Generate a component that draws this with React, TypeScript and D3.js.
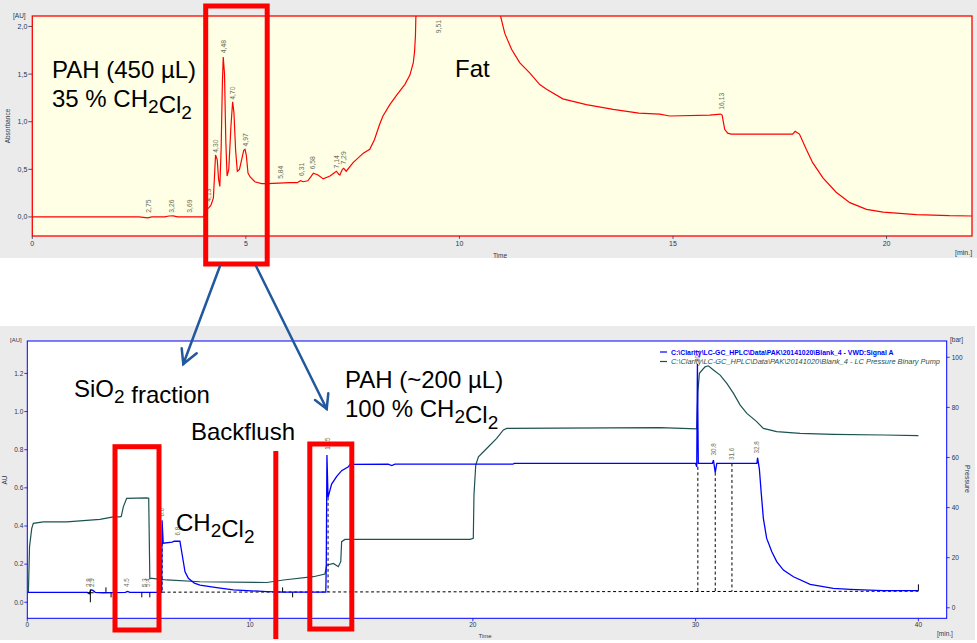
import React from 'react';
import * as d3 from 'd3';

const W = 977;
const H = 643;

// ---------- Top chromatogram (red, absorbance) ----------
const topTime = [0, 2.5, 2.6, 2.7, 2.8, 3.1, 3.2, 3.3, 3.4, 3.69, 4.0, 4.08, 4.13, 4.18, 4.24, 4.29, 4.33, 4.36, 4.39, 4.42, 4.45, 4.47, 4.5, 4.53, 4.56, 4.6, 4.65, 4.69, 4.72, 4.76, 4.8, 4.85, 4.9, 4.95, 4.98, 5.01, 5.05, 5.1, 5.21, 5.37, 5.5, 6.03, 6.2, 6.28, 6.34, 6.45, 6.52, 6.58, 6.69, 6.81, 6.97, 7.12, 7.17, 7.2, 7.26, 7.29, 7.35, 7.51, 7.75, 7.9, 8.01, 8.13, 8.21, 8.37, 8.53, 8.72, 8.84, 8.92, 8.95, 8.97, 9.0, 10.9, 10.94, 11.06, 11.22, 11.41, 11.65, 11.88, 12.04, 12.42, 12.97, 13.6, 14.2, 14.69, 14.92, 15.86, 16.11, 16.15, 16.17, 16.21, 16.28, 16.36, 17.8, 17.86, 17.96, 18.12, 18.27, 18.51, 18.82, 19.14, 19.53, 19.92, 20.7, 21.47, 22];
const topAbs = [0, 0, -0.005, -0.01, 0, 0, 0.01, 0.012, 0, 0, 0, 0.08, 0.095, 0.12, 0.2, 0.65, 0.6, 0.4, 0.32, 0.7, 1.4, 1.68, 1.5, 0.8, 0.43, 0.5, 0.95, 1.21, 1.1, 0.7, 0.48, 0.5, 0.6, 0.7, 0.71, 0.65, 0.46, 0.42, 0.37, 0.35, 0.35, 0.36, 0.36, 0.38, 0.37, 0.38, 0.42, 0.46, 0.44, 0.40, 0.43, 0.48, 0.45, 0.44, 0.5, 0.51, 0.48, 0.57, 0.67, 0.71, 0.81, 0.97, 1.06, 1.18, 1.28, 1.39, 1.49, 1.62, 1.74, 1.9, 2.5, 2.5, 2.15, 1.93, 1.76, 1.62, 1.51, 1.39, 1.34, 1.24, 1.18, 1.13, 1.09, 1.08, 1.06, 1.07, 1.08, 1.07, 1.02, 0.92, 0.88, 0.87, 0.87, 0.90, 0.87, 0.71, 0.57, 0.41, 0.26, 0.15, 0.08, 0.05, 0.025, 0.013, 0.01];
const topPeakLabels = ['2,75', '3,26', '3,69', '4,13', '4,30', '4,48', '4,70', '4,97', '5,84', '6,31', '6,58', '7,14', '7,29', '9,51', '16,13'];
const topPeakTimes = [2.73, 3.25, 3.67, 4.13, 4.29, 4.48, 4.69, 4.98, 5.81, 6.3, 6.56, 7.12, 7.28, 9.5, 16.13];
const topPeakLevels = [0.045, 0.045, 0.045, 0.16, 0.675, 1.72, 1.23, 0.74, 0.4, 0.43, 0.5, 0.51, 0.55, 1.93, 1.125];
const topXTicks = [0, 5, 10, 15, 20];
const topYTicks = [0, 0.5, 1.0, 1.5, 2.0];
const topYTickLabels = ['0,0', '0,5', '1,0', '1,5', '2,0'];

// ---------- Bottom chromatogram ----------
const sigTime = [0, 2.7, 2.78, 2.85, 2.95, 3.05, 3.4, 4.4, 4.5, 4.6, 6.03, 6.05, 6.1, 6.5, 6.6, 6.85, 6.93, 7.08, 7.23, 7.5, 7.75, 8.5, 9.25, 10.75, 11.5, 13.4, 13.42, 13.45, 13.5, 13.66, 13.89, 14.11, 14.41, 14.49, 16.2, 16.36, 16.5, 21.8, 21.85, 30.0, 30.05, 30.08, 30.12, 30.75, 30.8, 30.88, 30.95, 32.75, 32.78, 32.86, 32.94, 33.04, 33.19, 33.42, 33.64, 33.94, 34.39, 35.14, 36.18, 36.93, 38.43, 40.0];
const sigAU = [0.052, 0.052, 0.045, 0.065, 0.062, 0.052, 0.05, 0.052, 0.057, 0.052, 0.052, 0.43, 0.31, 0.315, 0.32, 0.32, 0.265, 0.16, 0.126, 0.1, 0.09, 0.077, 0.065, 0.056, 0.053, 0.053, 0.2, 0.772, 0.55, 0.62, 0.66, 0.69, 0.71, 0.723, 0.724, 0.717, 0.724, 0.724, 0.728, 0.728, 0.71, 1.25, 0.728, 0.728, 0.745, 0.68, 0.728, 0.728, 0.758, 0.70, 0.58, 0.44, 0.335, 0.265, 0.213, 0.169, 0.134, 0.094, 0.073, 0.068, 0.061, 0.061];
const presTime = [0, 0.05, 0.1, 0.2, 0.27, 0.72, 1.77, 3.26, 3.86, 4.16, 4.22, 4.31, 4.46, 5.36, 5.45, 5.5, 5.6, 6.26, 7.75, 10.75, 11.5, 12.84, 13.36, 13.44, 13.74, 13.96, 14.07, 14.11, 14.26, 19.87, 20.02, 20.05, 20.13, 20.25, 20.62, 21.07, 21.37, 21.52, 28.4, 30.05, 30.1, 30.17, 30.42, 30.57, 30.8, 31.1, 31.4, 31.7, 32.0, 32.3, 32.74, 33.04, 33.64, 34.69, 36.18, 38.43, 40];
const presBar = [6.2, 6.2, 24.4, 31.7, 33.7, 34.3, 34.3, 35.3, 36.3, 36.3, 36.5, 40.3, 43.7, 43.9, 43.7, 11.7, 11.7, 11.1, 10.4, 10.1, 11.1, 12.4, 13.5, 17.0, 17.7, 16.4, 18.4, 26.4, 27.3, 27.3, 27.7, 45, 57, 60.3, 63.6, 67.6, 71, 71.6, 71.9, 71.4, 86.3, 93.6, 96.2, 96.6, 94.9, 92.9, 89.6, 85.6, 80.9, 77.6, 74.3, 71.6, 70.3, 69.6, 69.2, 68.97, 68.7];
const botPeakLabels = ['2.8', '2.9', '4.5', '5.3', '5.4', '6.0', '6.8', '13.5', '30.1', '30.8', '31.6', '32.8'];
const botPeakTimes = [2.76, 2.9, 4.47, 5.25, 5.42, 6.05, 6.77, 13.48, 30.08, 30.8, 31.63, 32.76];
const botPeakLevels = [0.08, 0.08, 0.08, 0.08, 0.08, 0.45, 0.35, 0.8, 1.26, 0.77, 0.746, 0.78];
const dropTimes = [6.05, 13.5, 30.1, 30.88, 31.63];
const dropTops = [0.31, 0.55, 0.71, 0.68, 0.728];
const baseStart = [6.05, 0.053];
const baseEnd = [40.0, 0.058];
const markTimes = [3.53, 3.76, 5.14, 5.5, 11.46, 11.91];
const markDirs = [1, -1, -1, -1, 1, -1];
const botXTicks = [0, 10, 20, 30, 40];
const botYTicks = [0, 0.2, 0.4, 0.6, 0.8, 1.0, 1.2];
const presTicks = [0, 20, 40, 60, 80, 100];
const legendNames = [
  'C:\\Clarity\\LC-GC_HPLC\\Data\\PAK\\20141020\\Blank_4 - VWD:Signal A',
  'C:\\Clarity\\LC-GC_HPLC\\Data\\PAK\\20141020\\Blank_4 - LC Pressure Binary Pump',
];

const RED = '#ff0000';
const BLUE = '#0000ff';
const TEAL = '#1b5252';
const ARROW = '#22589e';
const GREY = '#ebebeb';
const TICKTXT = '#2a3550';
const PEAKTXT = '#6e705c';
const SANS = '"Liberation Sans", Arial, sans-serif';

function Sub({ children }: { children: string }) {
  return (
    <>
      <tspan dy={6} fontSize={19}>{children}</tspan>
      <tspan dy={-6} />
    </>
  );
}

export default function App() {
  const tx = d3.scaleLinear().domain([0, 22]).range([32.3, 972]);
  const ty = d3.scaleLinear().domain([-0.2, 2.11]).range([236, 16]);
  const bx = d3.scaleLinear().domain([0, 41.27]).range([27.3, 946.7]);
  const by = d3.scaleLinear().domain([-0.084, 1.37]).range([618.3, 341]);
  const bp = d3.scaleLinear().domain([-4.2, 106.5]).range([618.3, 341]);

  const topLine = d3.line<number>().x((d, i) => tx(topTime[i])).y((d) => ty(d));
  const sigLine = d3.line<number>().x((d, i) => bx(sigTime[i])).y((d) => by(d));
  const presLine = d3.line<number>().x((d, i) => bx(presTime[i])).y((d) => bp(d));

  const [tx0, tx1] = tx.range();
  const [ty0, ty1] = [ty.range()[1], ty.range()[0]];
  const [bx0, bx1] = bx.range();
  const [by0, by1] = [by.range()[1], by.range()[0]];
  const baseAt = (t: number) => baseStart[1] + (baseEnd[1] - baseStart[1]) * (t - baseStart[0]) / (baseEnd[0] - baseStart[0]);

  return (
    <svg width={W} height={H} style={{ position: 'fixed', left: 0, top: 0, background: '#fff' }} fontFamily={SANS}>
      <defs>
        <clipPath id="topclip"><rect x={tx0} y={ty0} width={tx1 - tx0} height={ty1 - ty0} /></clipPath>
        <clipPath id="botclip"><rect x={bx0} y={by0} width={bx1 - bx0} height={by1 - by0} /></clipPath>
      </defs>
      <rect x={0} y={0} width={W} height={H} fill="#fff" />

      {/* ===== Top panel ===== */}
      <rect x={0} y={0} width={W} height={258} fill={GREY} />
      <rect x={tx0} y={ty0} width={tx1 - tx0} height={ty1 - ty0} fill="#ffffe5" stroke={RED} strokeWidth={1.3} />
      {topYTicks.map((v, i) => (
        <g key={'ty' + i}>
          <line x1={tx0 - 4} x2={tx0} y1={ty(v)} y2={ty(v)} stroke={TICKTXT} strokeWidth={0.8} />
          <text x={tx0 - 5} y={ty(v) + 2.5} fontSize={7} fill={TICKTXT} textAnchor="end">{topYTickLabels[i]}</text>
        </g>
      ))}
      {topXTicks.map((v) => (
        <g key={'tx' + v}>
          <line x1={tx(v)} x2={tx(v)} y1={ty1} y2={ty1 + 3} stroke={TICKTXT} strokeWidth={0.8} />
          <text x={tx(v)} y={ty1 + 10} fontSize={7} fill={TICKTXT} textAnchor="middle">{v}</text>
        </g>
      ))}
      <text x={13} y={18} fontSize={6.5} fill={TICKTXT}>[AU]</text>
      <text transform="translate(10,126) rotate(-90)" fontSize={6.5} fill={TICKTXT} textAnchor="middle">Absorbance</text>
      <text x={500} y={258} fontSize={6.5} fill={TICKTXT} textAnchor="middle">Time</text>
      <text x={955} y={255} fontSize={7} fill={TICKTXT}>[min.]</text>

      <path d={topLine(topAbs) || ''} fill="none" stroke={RED} strokeWidth={1.2} clipPath="url(#topclip)" />
      {topPeakLabels.map((l, i) => (
        <text key={'tp' + i} transform={`translate(${tx(topPeakTimes[i]) + 2.5},${ty(topPeakLevels[i])}) rotate(-90)`} fontSize={6.8} fill={PEAKTXT}>{l}</text>
      ))}

      <text x={52} y={78} fontSize={24} fill="#000">PAH (450 µL)</text>
      <text x={52} y={107} fontSize={24} fill="#000">35 % CH<Sub>2</Sub>Cl<Sub>2</Sub></text>
      <text x={455} y={77} fontSize={24} fill="#000">Fat</text>

      {/* ===== Bottom panel ===== */}
      <rect x={0} y={326} width={975} height={314} fill={GREY} />
      <rect x={bx0} y={by0} width={bx1 - bx0} height={by1 - by0} fill="#fff" stroke={BLUE} strokeWidth={1} />
      {botYTicks.map((v) => (
        <g key={'by' + v}>
          <line x1={bx0 - 3} x2={bx0} y1={by(v)} y2={by(v)} stroke={BLUE} strokeWidth={0.8} />
          <text x={bx0 - 4} y={by(v) + 2.3} fontSize={6.5} fill={TICKTXT} textAnchor="end">{v.toFixed(1)}</text>
        </g>
      ))}
      {presTicks.map((v) => (
        <g key={'bp' + v}>
          <line x1={bx1} x2={bx1 + 3} y1={bp(v)} y2={bp(v)} stroke={BLUE} strokeWidth={0.8} />
          <text x={bx1 + 5} y={bp(v) + 2.3} fontSize={6.5} fill={TICKTXT}>{v}</text>
        </g>
      ))}
      {botXTicks.map((v) => (
        <g key={'bx' + v}>
          <line x1={bx(v)} x2={bx(v)} y1={by1} y2={by1 + 3} stroke={BLUE} strokeWidth={0.8} />
          <text x={bx(v)} y={by1 + 9} fontSize={6.5} fill={TICKTXT} textAnchor="middle">{v}</text>
        </g>
      ))}
      <text x={10} y={342} fontSize={6} fill={TICKTXT}>[AU]</text>
      <text transform="translate(7,480) rotate(-90)" fontSize={6.5} fill={TICKTXT} textAnchor="middle">AU</text>
      <text x={950} y={342} fontSize={6.5} fill={TICKTXT}>[bar]</text>
      <text transform="translate(965,479) rotate(90)" fontSize={7} fill={TICKTXT} textAnchor="middle">Pressure</text>
      <text x={485} y={638} fontSize={6} fill={TICKTXT} textAnchor="middle">Time</text>
      <text x={937} y={636} fontSize={6.5} fill={TICKTXT}>[min.]</text>

      <g clipPath="url(#botclip)">
        <path d={presLine(presBar) || ''} fill="none" stroke={TEAL} strokeWidth={1.2} />
        <line x1={bx(baseStart[0])} y1={by(baseStart[1])} x2={bx(baseEnd[0])} y2={by(baseEnd[1])} stroke="#000" strokeWidth={1} strokeDasharray="3,2.5" />
        {dropTimes.map((t, i) => (
          <line key={'dr' + i} x1={bx(t)} x2={bx(t)} y1={by(dropTops[i])} y2={by(baseAt(t))} stroke="#000" strokeWidth={1} strokeDasharray="3,2.5" />
        ))}
        <path d={sigLine(sigAU) || ''} fill="none" stroke={BLUE} strokeWidth={1.3} />
        {markTimes.map((t, i) => (
          <line key={'mk' + i} x1={bx(t)} x2={bx(t)} y1={by(0.052)} y2={by(0.052) - markDirs[i] * 5} stroke="#000" strokeWidth={1} />
        ))}
        <line x1={bx(2.83)} x2={bx(2.83)} y1={by(0.065)} y2={by(0.0)} stroke="#000" strokeWidth={1} />
        <line x1={bx(2.7)} x2={bx(2.98)} y1={by(0.05)} y2={by(0.05)} stroke="#000" strokeWidth={1} />
        <line x1={bx(40)} x2={bx(40)} y1={by(0.061)} y2={by(0.094)} stroke="#000" strokeWidth={1} />
      </g>
      {botPeakLabels.map((l, i) => (
        <text key={'bpk' + i} transform={`translate(${bx(botPeakTimes[i]) + 2.3},${by(botPeakLevels[i])}) rotate(-90)`} fontSize={6.3} fill={PEAKTXT}>{l}</text>
      ))}

      {/* legend */}
      <line x1={660} x2={667} y1={352} y2={352} stroke={BLUE} strokeWidth={1.2} />
      <text x={671} y={354.5} fontSize={6.9} fontWeight="bold" fill={BLUE}>{legendNames[0]}</text>
      <line x1={660} x2={667} y1={361.5} y2={361.5} stroke={TEAL} strokeWidth={1.2} />
      <text x={671} y={364} fontSize={7.4} fontStyle="italic" fill={TEAL}>{legendNames[1]}</text>

      {/* annotations bottom */}
      <text x={74} y={397} fontSize={24} fill="#000">SiO<Sub>2</Sub> fraction</text>
      <text x={191} y={440} fontSize={24} fill="#000">Backflush</text>
      <text x={176} y={531} fontSize={24} fill="#000">CH<Sub>2</Sub>Cl<Sub>2</Sub></text>
      <text x={345} y={388} fontSize={24} fill="#000">PAH (~200 µL)</text>
      <text x={345} y={417} fontSize={24} fill="#000">100 % CH<Sub>2</Sub>Cl<Sub>2</Sub></text>

      {/* red highlight boxes */}
      <rect x={205.7} y={6} width={61.5} height={258} fill="none" stroke={RED} strokeWidth={5} />
      <rect x={115} y={446.7} width={44} height={183.3} fill="none" stroke={RED} strokeWidth={5} />
      <line x1={275.8} x2={275.8} y1={451} y2={639} stroke={RED} strokeWidth={5} />
      <rect x={309.8} y={444} width={42} height={185} fill="none" stroke={RED} strokeWidth={5} />

      {/* arrows */}
      <g stroke={ARROW} strokeWidth={2.5} fill="none" strokeLinecap="round">
        <line x1={220} y1={266} x2={183.3} y2={364} />
        <polyline points="181.7,348.3 183.3,364 196.7,353.3" />
        <line x1={256} y1={266} x2={326.7} y2={409} />
        <polyline points="315,400 326.7,409 328.3,393.3" />
      </g>
    </svg>
  );
}
